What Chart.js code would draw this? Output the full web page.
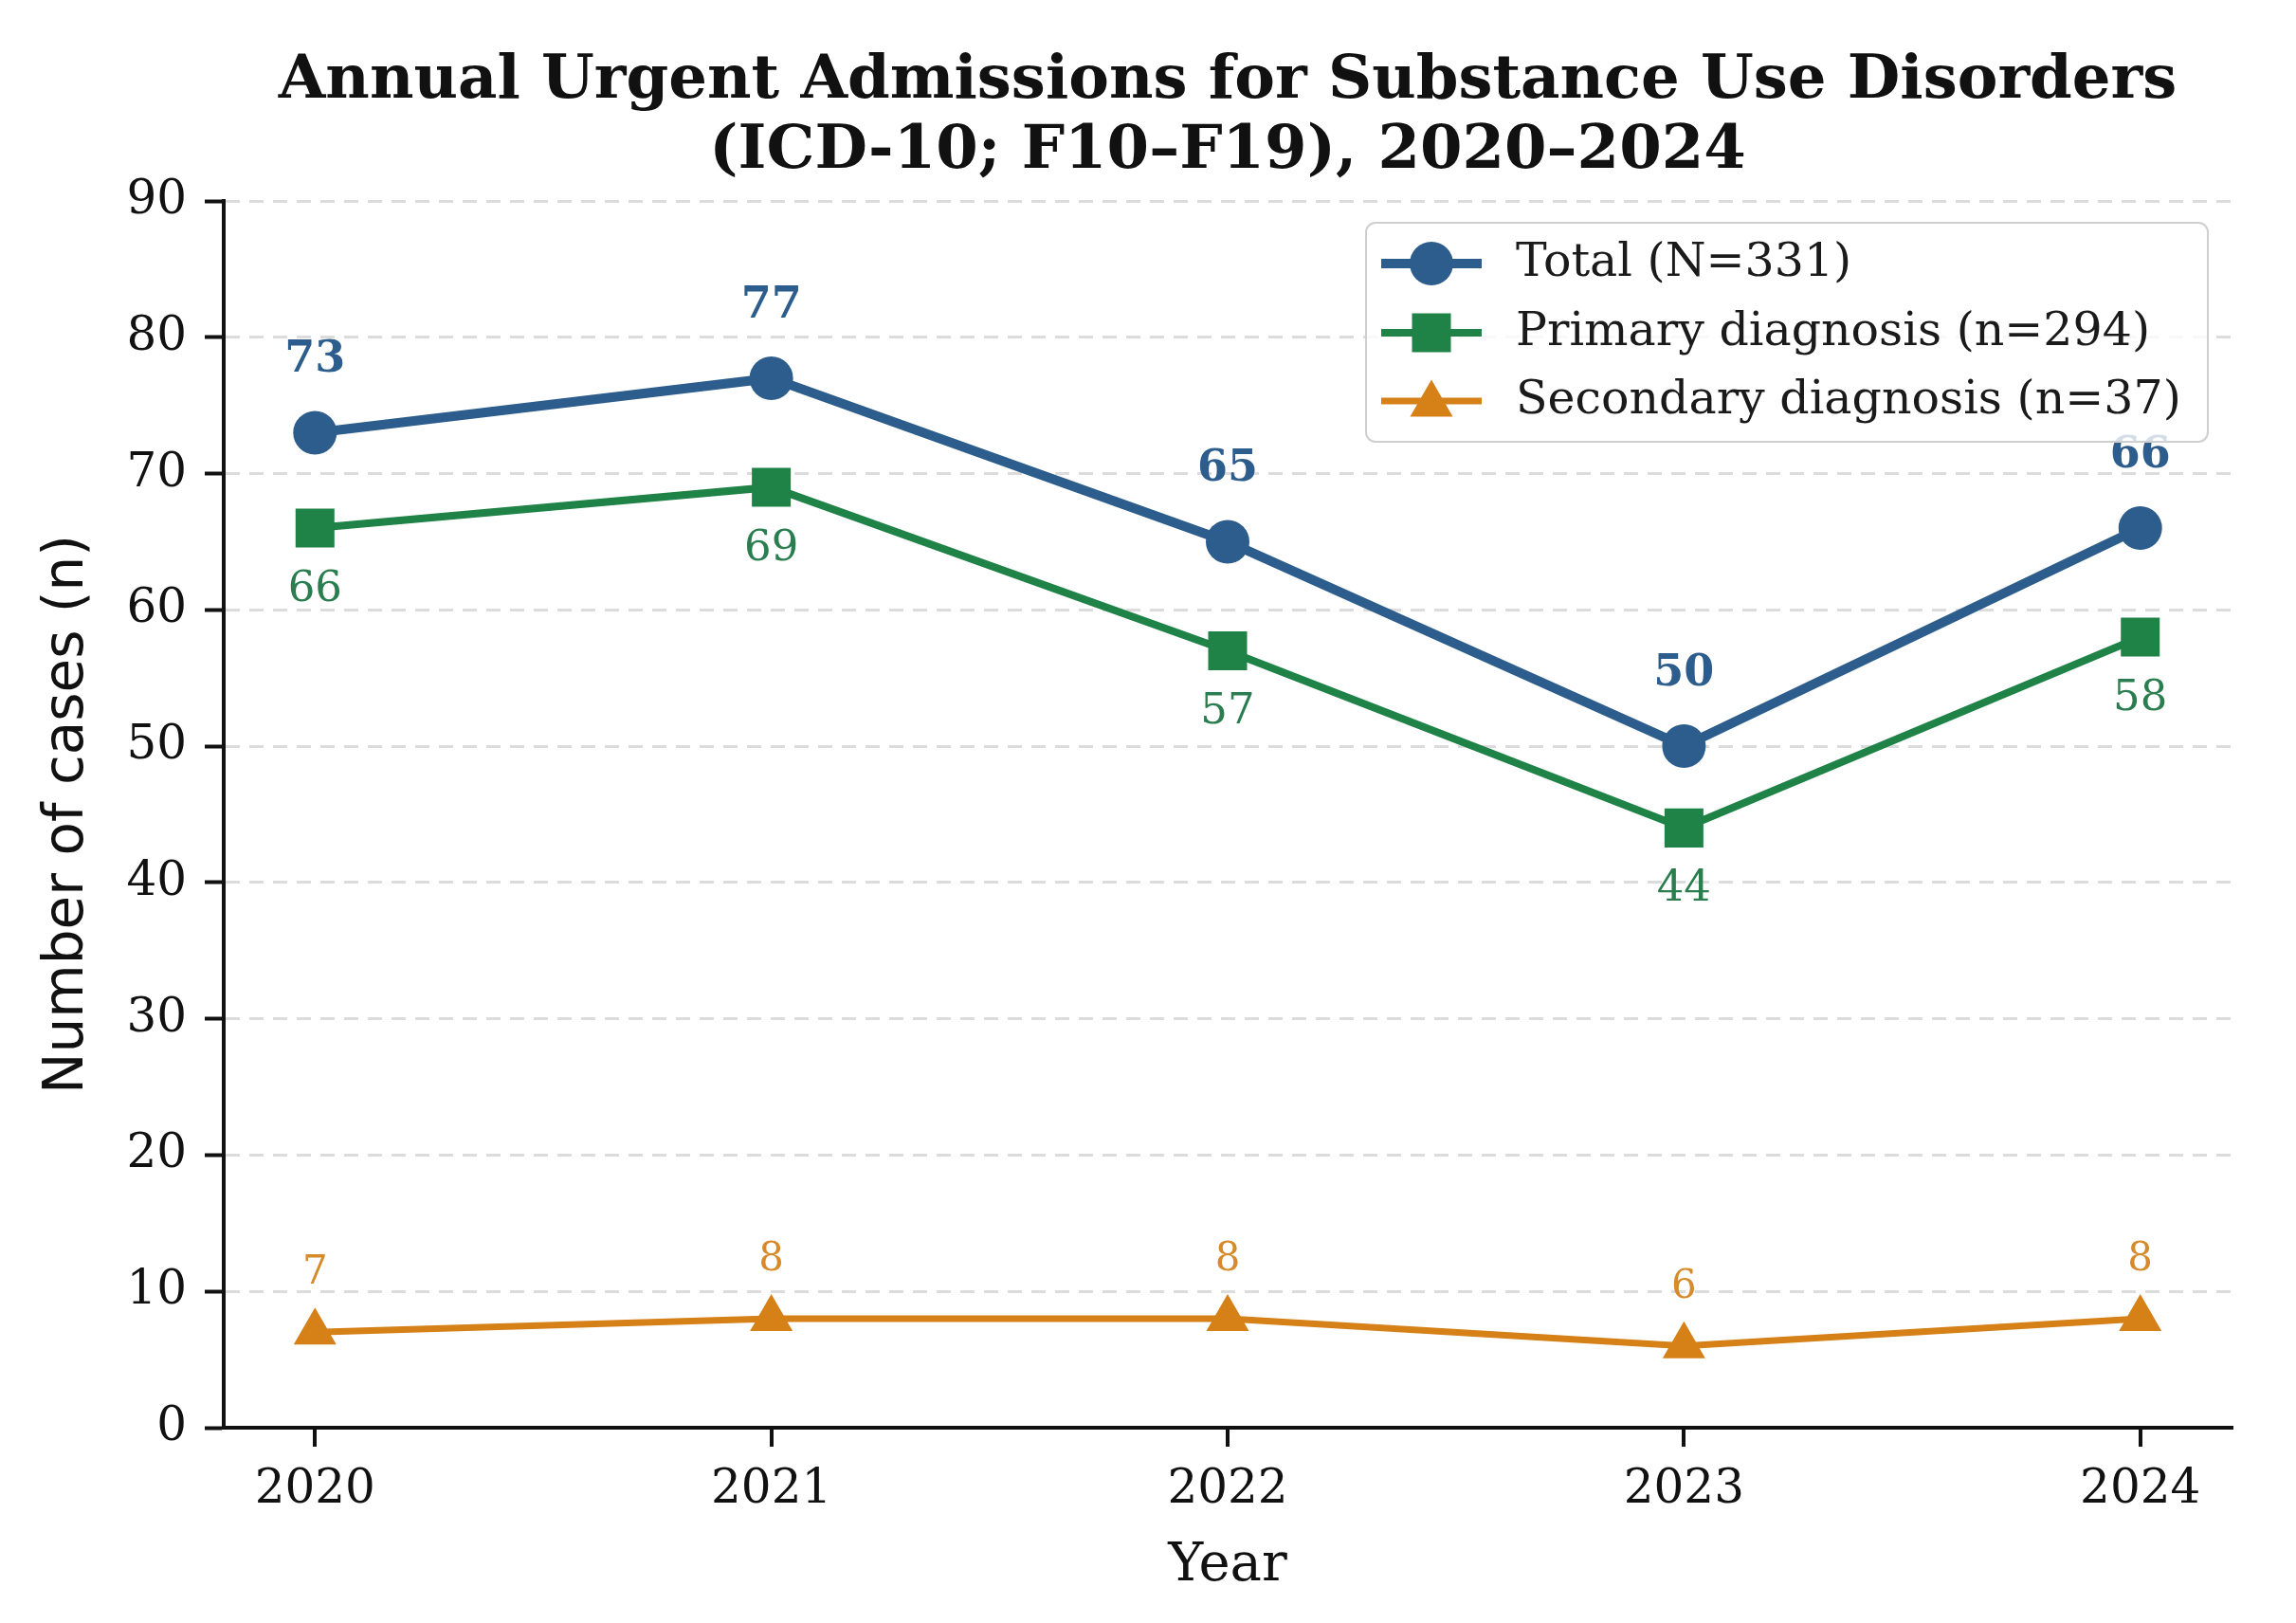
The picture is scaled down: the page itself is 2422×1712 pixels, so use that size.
<!DOCTYPE html>
<html>
<head>
<meta charset="utf-8">
<script src="https://cdn.jsdelivr.net/npm/chart.js@4.4.1/dist/chart.umd.min.js"></script>
<style>
  html, body { margin: 0; padding: 0; background: #ffffff; }
  #c { display: block; }
</style>
</head>
<body>
<canvas id="c" width="2422" height="1712" style="width:2422px;height:1712px"></canvas>
<script>
// ---- data ----
const years = [2020, 2021, 2022, 2023, 2024];
const totalCases = [73, 77, 65, 50, 66];
const primaryCases = [66, 69, 57, 44, 58];
const secondaryCases = [7, 8, 8, 6, 8];
const seriesLabels = ['Total (N=331)', 'Primary diagnosis (n=294)', 'Secondary diagnosis (n=37)'];
const yTickValues = [0, 10, 20, 30, 40, 50, 60, 70, 80, 90];
const titleLines = ['Annual Urgent Admissions for Substance Use Disorders', '(ICD-10; F10\u2013F19), 2020\u20132024'];
const xAxisTitle = 'Year';
const yAxisTitle = 'Number of cases (n)';

// ---- styles ----
const BLUE = '#2C5D8C';
const GREEN = '#1F8246';
const ORANGE = '#D68018';
const SERIF = "'DejaVu Serif', serif";
const SANS = "'DejaVu Sans', sans-serif";

function toPoints(vals) { return years.map((y, i) => ({ x: y, y: vals[i] })); }

function drawMarker(ctx, style, x, y, r, color) {
  ctx.save();
  ctx.fillStyle = color;
  ctx.beginPath();
  if (style === 'circle') {
    ctx.arc(x, y, r, 0, Math.PI * 2);
  } else if (style === 'rect') {
    const s = r * Math.SQRT1_2;
    ctx.rect(x - s, y - s, 2 * s, 2 * s);
  } else if (style === 'triangle') {
    const h = r * 1.5, hw = r * Math.sqrt(3) / 2;
    ctx.moveTo(x, y - h / 2 - 3);
    ctx.lineTo(x - hw, y + h / 2 - 3);
    ctx.lineTo(x + hw, y + h / 2 - 3);
    ctx.closePath();
  }
  ctx.fill();
  ctx.restore();
}

const labelCfg = [
  { dy: -76, font: 'bold 46px ' + SERIF, color: BLUE },
  { dy: 65, font: '45px ' + SERIF, color: '#2A7D4E' },
  { dy: -62, font: '42px ' + SERIF, color: '#D68A2A' }
];

const titlePlugin = {
  id: 'twoLineTitle',
  afterDraw(chart) {
    const ctx = chart.ctx;
    const cx = (chart.chartArea.left + chart.chartArea.right) / 2;
    ctx.save();
    ctx.font = 'bold 64px ' + SERIF;
    ctx.fillStyle = '#111';
    ctx.textAlign = 'center';
    ctx.textBaseline = 'middle';
    ctx.fillText(titleLines[0], cx, 86);
    ctx.fillText(titleLines[1], cx, 160);
    ctx.restore();
  }
};

const valueLabelPlugin = {
  id: 'valueLabels',
  afterDatasetsDraw(chart) {
    const ctx = chart.ctx;
    chart.data.datasets.forEach((ds, di) => {
      const meta = chart.getDatasetMeta(di);
      const cfg = labelCfg[di];
      ctx.save();
      ctx.font = cfg.font;
      ctx.fillStyle = cfg.color;
      ctx.textAlign = 'center';
      ctx.textBaseline = 'middle';
      meta.data.forEach((pt, i) => {
        ctx.fillText(String(ds.data[i].y), pt.x, pt.y + cfg.dy);
      });
      ctx.restore();
    });
  }
};

const legendPlugin = {
  id: 'innerLegend',
  afterDraw(chart) {
    const ctx = chart.ctx;
    const bx = 1441, by = 235, bw = 888, bh = 231, rad = 10;
    ctx.save();
    ctx.beginPath();
    ctx.moveTo(bx + rad, by);
    ctx.arcTo(bx + bw, by, bx + bw, by + bh, rad);
    ctx.arcTo(bx + bw, by + bh, bx, by + bh, rad);
    ctx.arcTo(bx, by + bh, bx, by, rad);
    ctx.arcTo(bx, by, bx + bw, by, rad);
    ctx.closePath();
    ctx.fillStyle = 'rgba(255,255,255,0.8)';
    ctx.fill();
    ctx.lineWidth = 2;
    ctx.strokeStyle = '#cfcfcf';
    ctx.stroke();
    const rows = [278, 351, 423];
    chart.data.datasets.forEach((ds, i) => {
      const y = rows[i];
      ctx.beginPath();
      ctx.lineWidth = ds.borderWidth;
      ctx.strokeStyle = ds.borderColor;
      ctx.moveTo(1457, y);
      ctx.lineTo(1563, y);
      ctx.stroke();
      drawMarker(ctx, ds.pointStyle, 1510, y, ds.pointRadius, ds.borderColor);
      ctx.font = '49px ' + SERIF;
      ctx.fillStyle = '#1a1a1a';
      ctx.textAlign = 'left';
      ctx.textBaseline = 'middle';
      ctx.fillText(ds.label, 1599, y);
    });
    ctx.restore();
  }
};

new Chart(document.getElementById('c').getContext('2d'), {
  type: 'line',
  data: {
    datasets: [
      { label: seriesLabels[0], data: toPoints(totalCases), borderColor: BLUE, backgroundColor: BLUE,
        borderWidth: 10, pointStyle: 'circle', pointRadius: 23, pointBorderWidth: 0, pointBackgroundColor: BLUE },
      { label: seriesLabels[1], data: toPoints(primaryCases), borderColor: GREEN, backgroundColor: GREEN,
        borderWidth: 8, pointStyle: 'rect', pointRadius: 29, pointBorderWidth: 0, pointBackgroundColor: GREEN },
      { label: seriesLabels[2], data: toPoints(secondaryCases), borderColor: ORANGE, backgroundColor: ORANGE,
        borderWidth: 7, pointStyle: 'triangle', pointRadius: 26, pointBorderWidth: 0, pointBackgroundColor: ORANGE }
    ]
  },
  options: {
    responsive: false,
    animation: false,
    devicePixelRatio: 1,
    layout: { padding: { top: 212, right: 68, left: 0, bottom: 0 } },
    plugins: { legend: { display: false }, title: { display: false }, tooltip: { enabled: false } },
    elements: { line: { tension: 0 } },
    scales: {
      x: {
        type: 'linear',
        min: 2019.8,
        max: 2024.2,
        afterBuildTicks: (s) => { s.ticks = years.map(v => ({ value: v })); },
        afterFit: (s) => { s.height = 206; },
        ticks: { callback: (v) => String(v), font: { family: SERIF, size: 50 }, color: '#111', padding: 16, maxRotation: 0 },
        grid: { drawOnChartArea: false, drawTicks: true, tickLength: 20, tickWidth: 4, tickColor: '#111', color: '#111', lineWidth: 4 },
        border: { display: true, color: '#111', width: 4 },
        title: { display: true, text: xAxisTitle, font: { family: SERIF, size: 56 }, color: '#111', padding: { top: 0, bottom: 26 } }
      },
      y: {
        min: 0,
        max: 90,
        afterBuildTicks: (s) => { s.ticks = yTickValues.map(v => ({ value: v })); },
        afterFit: (s) => { s.width = 236; },
        ticks: { font: { family: SERIF, size: 50 }, color: '#111', padding: 19 },
        grid: { color: '#dcdcdc', lineWidth: 3, drawTicks: true, tickLength: 20, tickWidth: 4, tickColor: '#111', tickBorderDash: [] },
        border: { display: true, color: '#111', width: 4, dash: [15, 10] },
        title: { display: true, text: yAxisTitle, font: { family: SANS, size: 58 }, color: '#111', padding: { top: 37, bottom: 0 } }
      }
    }
  },
  plugins: [valueLabelPlugin, legendPlugin, titlePlugin]
});
</script>
</body>
</html>
